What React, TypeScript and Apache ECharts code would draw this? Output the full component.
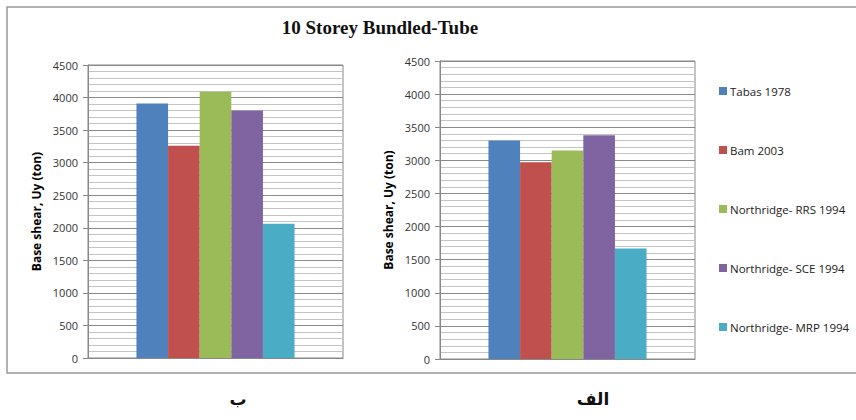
import React, { useEffect, useRef } from "react";
import * as echarts from "echarts";

const seriesNames = [
  "Tabas 1978",
  "Bam 2003",
  "Northridge- RRS 1994",
  "Northridge- SCE 1994",
  "Northridge- MRP 1994",
];
const colors = ["#4F81BD", "#C0504D", "#9BBB59", "#8064A2", "#4BACC6"];
const leftValues = [3910, 3260, 4090, 3800, 2060];
const rightValues = [3300, 2970, 3150, 3380, 1670];
const categories = [""];
const yTicks = { min: 0, max: 4500, interval: 500 };
const title = "10 Storey Bundled-Tube";
const yName = "Base shear, Uy (ton)";
const panelLabels = ["ب", "الف"];

export default function App() {
  const ref = useRef<HTMLDivElement>(null);
  useEffect(() => {
    document.body.style.margin = "0";
    const chart = echarts.init(ref.current!, null, { renderer: "svg" });
    const axisFont = "'Open Sans', 'Liberation Sans', sans-serif";
    const makeY = (gridIndex: number) => ({
      type: "value",
      gridIndex,
      min: yTicks.min,
      max: yTicks.max,
      interval: yTicks.interval,
      name: yName,
      nameLocation: "middle",
      nameGap: 46,
      nameTextStyle: { fontFamily: axisFont, fontWeight: "bold", fontSize: 12, color: "#000" },
      axisLine: { show: true, lineStyle: { color: "#888", width: 1 } },
      axisTick: { show: true, length: 5, lineStyle: { color: "#888" } },
      axisLabel: {
        fontFamily: axisFont,
        fontSize: 11,
        color: "#333",
        margin: 10,
        formatter: (v: number) => String(v),
      },
      splitLine: { show: true, lineStyle: { color: "#8a8a8a", width: 1 } },
      minorTick: { show: false, splitNumber: 5 },
      minorSplitLine: { show: true, lineStyle: { color: "#c4c4c4", width: 1 } },
    });
    const makeX = (gridIndex: number) => ({
      type: "category",
      gridIndex,
      data: categories,
      axisLabel: { show: false },
      axisTick: { show: false },
      axisLine: { show: true, lineStyle: { color: "#888" } },
    });
    const series: any[] = [];
    [leftValues, rightValues].forEach((vals, gi) => {
      seriesNames.forEach((n, i) => {
        series.push({
          type: "bar",
          name: n,
          xAxisIndex: gi,
          yAxisIndex: gi,
          data: [vals[i]],
          itemStyle: { color: colors[i] },
          barGap: "0%",
          barCategoryGap: "38%",
        });
      });
    });
    chart.setOption({
      animation: false,
      color: colors,
      grid: [
        { left: 88, top: 65, width: 255, height: 293, show: true, borderColor: "#888", borderWidth: 1, backgroundColor: "transparent" },
        { left: 440, top: 61, width: 255, height: 298, show: true, borderColor: "#888", borderWidth: 1, backgroundColor: "transparent" },
      ],
      xAxis: [makeX(0), makeX(1)],
      yAxis: [makeY(0), makeY(1)],
      legend: {
        data: seriesNames,
        orient: "vertical",
        left: 714,
        top: 80,
        itemGap: 47,
        itemWidth: 8,
        itemHeight: 8,
        icon: "rect",
        textStyle: { fontFamily: axisFont, fontSize: 11.5, color: "#222", padding: [0, 0, 0, -2] },
      },
      series,
      graphic: [
        {
          type: "rect",
          shape: { x: 7, y: 7, width: 900, height: 366 },
          style: { fill: "none", stroke: "#999", lineWidth: 1.5 },
          silent: true,
        },
        {
          type: "text",
          x: 380,
          y: 27,
          style: {
            text: title,
            fontFamily: "'Liberation Serif', serif",
            fontWeight: "bold",
            fontSize: 19,
            fill: "#111",
            textAlign: "center",
            textVerticalAlign: "middle",
          },
        },
        {
          type: "text",
          x: 238,
          y: 390,
          style: {
            text: panelLabels[0],
            fontFamily: "'DejaVu Sans', sans-serif",
            fontWeight: "bold",
            fontSize: 17,
            fill: "#111",
            textAlign: "center",
            textVerticalAlign: "top",
          },
        },
        {
          type: "text",
          x: 593,
          y: 390,
          style: {
            text: panelLabels[1],
            fontFamily: "'DejaVu Sans', sans-serif",
            fontWeight: "bold",
            fontSize: 17,
            fill: "#111",
            textAlign: "center",
            textVerticalAlign: "top",
          },
        },
      ],
    });
    return () => chart.dispose();
  }, []);
  return <div ref={ref} style={{ width: 856, height: 420 }} />;
}
